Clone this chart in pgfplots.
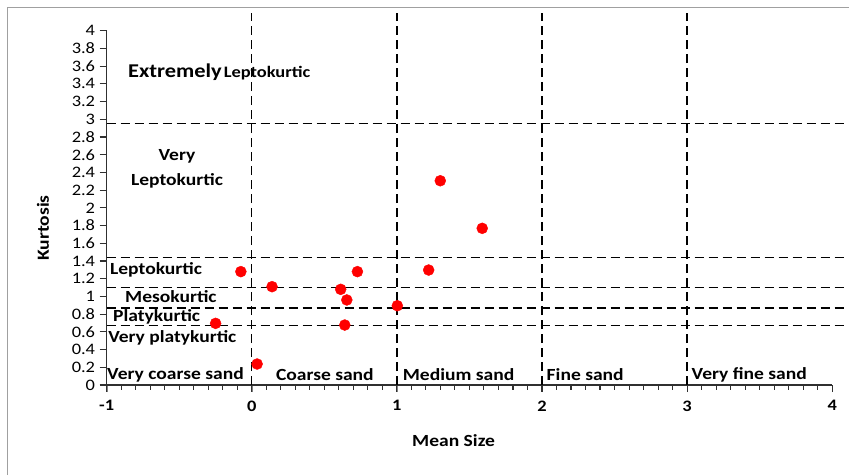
\documentclass[border=0pt]{standalone}
\usepackage{fontspec}
\setmainfont{Carlito}[FakeStretch=1.15]
\usepackage{pgfplots}
\pgfplotsset{compat=1.18}

\definecolor{framegray}{HTML}{A0A0A0}
\definecolor{axisgray}{HTML}{303030}

\newcommand{\lab}{\fontsize{17}{19}\selectfont\bfseries}

\begin{document}
\begin{tikzpicture}
\useasboundingbox (0,0) rectangle (849pt,475pt);
% outer chart frame
\draw[framegray, line width=1.3pt] (7.5pt,0pt) -- (7.5pt,467.5pt) -- (849pt,467.5pt);

\begin{axis}[
  at={(106.6pt,90pt)}, anchor=south west,
  scale only axis, width=725.7pt, height=354.3pt,
  xmin=-1, xmax=4, ymin=0, ymax=4,
  clip=false,
  axis x line*=bottom, axis y line*=left,
  axis line style={axisgray, line width=1.2pt, -},
  xtick={-1,0,...,4},
  ytick={0,0.2,...,4.01},
  xtick align=outside, ytick align=outside,
  major tick length=7pt, minor tick length=4.5pt,
  y tick style={axisgray, line width=1.1pt},
  /pgf/number format/assume math mode=true,
  /pgf/number format/.cd, fixed, precision=1, /pgfplots/.cd,
  yticklabel style={font=\fontsize{16}{18}\selectfont, xshift=-1pt},
  xticklabel style={font=\fontsize{16}{18}\selectfont\bfseries, yshift=-5pt},
  xlabel={Mean Size}, ylabel={Kurtosis},
  xlabel style={font=\lab, at={(axis cs:1.391,-0.632)}, anchor=center},
  ylabel style={font=\lab, at={(axis cs:-1.438,1.772)}, anchor=center},
]
% class boundaries: kurtosis (horizontal) and mean size (vertical)
\addplot[black, dash pattern=on 9pt off 5pt, line width=1.5pt] coordinates {(-1,2.95) (4.1,2.95)};
\addplot[black, dash pattern=on 9pt off 5pt, line width=1.5pt] coordinates {(-1,1.44) (4.1,1.44)};
\addplot[black, dash pattern=on 9pt off 5pt, line width=1.5pt] coordinates {(-1,1.10) (4.1,1.10)};
\addplot[black, dash pattern=on 9pt off 5pt, line width=1.5pt] coordinates {(-1,0.87) (4.1,0.87)};
\addplot[black, dash pattern=on 9pt off 5pt, line width=1.5pt] coordinates {(-1,0.67) (4.1,0.67)};
\addplot[black, dash pattern=on 9pt off 5pt, line width=1.5pt] coordinates {(0,0) (0,4.2)};
\addplot[black, dash pattern=on 9pt off 5pt, line width=1.5pt] coordinates {(1,0) (1,4.2)};
\addplot[black, dash pattern=on 9pt off 5pt, line width=1.5pt] coordinates {(2,0) (2,4.2)};
\addplot[black, dash pattern=on 9pt off 5pt, line width=1.5pt] coordinates {(3,0) (3,4.2)};

% samples
\addplot[only marks, mark=*, mark size=5.5pt, color=red, mark options={fill=red, draw=red}] coordinates {
  (-0.075,1.28) (0.14,1.11) (0.728,1.28) (0.613,1.08) (0.655,0.96) (1.003,0.895)
  (0.641,0.677) (-0.249,0.696) (0.037,0.237) (1.219,1.298) (1.299,2.306) (1.588,1.769)
};

% x-axis tick marks: minor every 0.1, major at integers
\pgfplotsinvokeforeach{-0.9,-0.8,...,3.95}{
  \draw[axisgray, line width=1.1pt] (axis cs:#1,0) -- ([yshift=-4.5pt]axis cs:#1,0);
}
\pgfplotsinvokeforeach{-1,0,...,4}{
  \draw[axisgray, line width=1.1pt] (axis cs:#1,0) -- ([yshift=-7pt]axis cs:#1,0);
}

% kurtosis classes
\node[anchor=base west, inner sep=0pt] at (axis cs:-0.853,3.47)
  {\fontsize{19.5}{21}\selectfont\bfseries Extremely\hspace{2pt}{\fontsize{16}{18}\selectfont Leptokurtic}};
\node[font=\lab, anchor=center] at (axis cs:-0.515,2.585) {Very};
\node[font=\lab, anchor=center] at (axis cs:-0.515,2.31) {Leptokurtic};
\node[font=\lab, anchor=west, inner sep=0pt] at (axis cs:-0.977,1.30) {Leptokurtic};
\node[font=\lab, anchor=west, inner sep=0pt] at (axis cs:-0.873,0.993) {Mesokurtic};
\node[font=\lab, anchor=west, inner sep=0pt] at (axis cs:-0.956,0.767) {Platykurtic};
\node[font=\lab, anchor=west, inner sep=0pt] at (axis cs:-0.99,0.53) {Very platykurtic};
% mean size classes
\node[font=\lab, anchor=west, inner sep=0pt] at (axis cs:-0.997,0.113) {Very coarse sand};
\node[font=\lab, anchor=west, inner sep=0pt] at (axis cs:0.166,0.113) {Coarse sand};
\node[font=\lab, anchor=west, inner sep=0pt] at (axis cs:1.04,0.113) {Medium sand};
\node[font=\lab, anchor=west, inner sep=0pt] at (axis cs:2.031,0.113) {Fine sand};
\node[font=\lab, anchor=west, inner sep=0pt] at (axis cs:3.03,0.113) {Very fine sand};
\end{axis}
\end{tikzpicture}
\end{document}
